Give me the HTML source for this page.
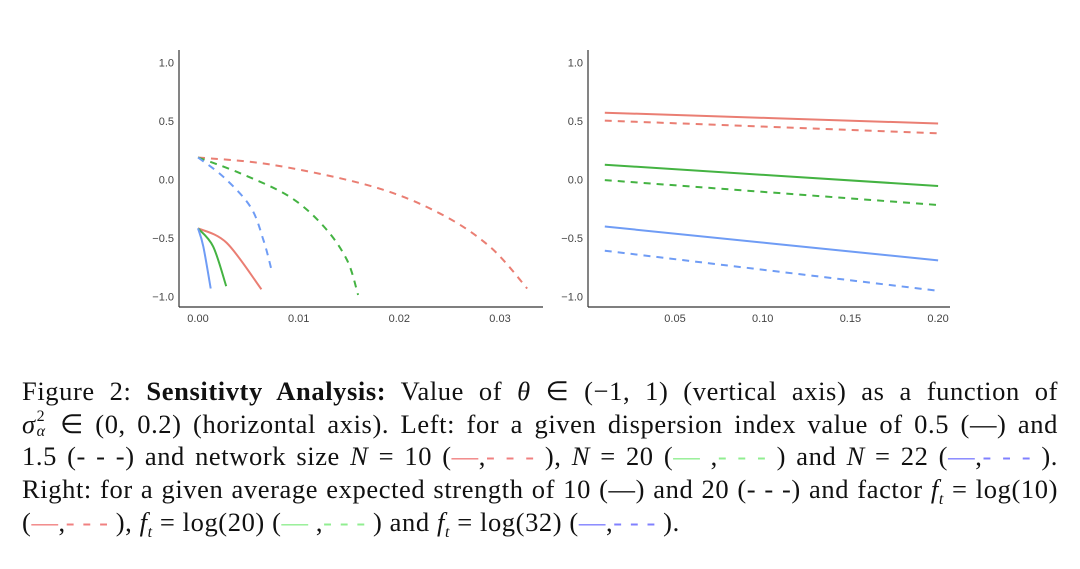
<!DOCTYPE html>
<html><head><meta charset="utf-8"><style>
body{margin:0;background:#fff;width:1080px;height:569px;overflow:hidden;position:relative;font-family:"Liberation Serif",serif}
.cap{position:absolute;left:22px;width:1036px;height:33px;font-size:26.5px;letter-spacing:0.6px;color:#111;text-align:justify;text-align-last:justify;white-space:nowrap;line-height:33px}
.cap.last{text-align-last:left}
i{font-style:italic}
.sb{font-size:16px;position:relative;top:6px;line-height:0}
.r{color:#f08080}.g{color:#90ee90}.b{color:#8080ff}
</style></head><body>
<svg id="chart" width="1080" height="360" style="position:absolute;left:0;top:0" font-family="Liberation Sans, sans-serif"></svg>
<div class="cap" style="top:375px">Figure 2: <b>Sensitivty Analysis:</b> Value of <i>θ</i> ∈ (−1, 1) (vertical axis) as a function of</div>
<div class="cap" style="top:408px"><i>σ</i><span style="display:inline-block;width:13px;position:relative;height:10px;vertical-align:baseline"><span style="position:absolute;left:1px;top:-14px;font-size:16px;line-height:15px">2</span><i style="position:absolute;left:1px;top:1px;font-size:16px;line-height:15px">α</i></span> ∈ (0, 0.2) (horizontal axis). Left: for a given dispersion index value of 0.5 (—) and</div>
<div class="cap" style="top:440px">1.5 (- - -) and network size <i>N</i> = 10 (<span class="r">—</span>,<span class="r">- - -</span> ), <i>N</i> = 20 (<span class="g">—</span> ,<span class="g">- - -</span> ) and <i>N</i> = 22 (<span class="b">—</span>,<span class="b">- - -</span> ).</div>
<div class="cap" style="top:473px">Right: for a given average expected strength of 10 (—) and 20 (- - -) and factor <i>f<span class="sb">t</span></i> = log(10)</div>
<div class="cap last" style="top:506px">(<span class="r">—</span>,<span class="r">- - -</span> ), <i>f<span class="sb">t</span></i> = log(20) (<span class="g">—</span> ,<span class="g">- - -</span> ) and <i>f<span class="sb">t</span></i> = log(32) (<span class="b">—</span>,<span class="b">- - -</span> ).</div>
<script>
// Left panel data
const leftXTicks=[0,0.01,0.02,0.03];
const leftXTickLabels=["0.00","0.01","0.02","0.03"];
const yTicks=[1,0.5,0,-0.5,-1];
const yTickLabels=["1.0","0.5","0.0","\u22120.5","\u22121.0"];
const redDashX=[0,0.0075,0.0174,0.024,0.029,0.0327];
const redDashY=[0.19,0.126,-0.06,-0.287,-0.573,-0.93];
const greenDashX=[0,0.0042,0.0091,0.0125,0.0148,0.0159];
const greenDashY=[0.19,0.055,-0.145,-0.40,-0.686,-0.985];
const blueDashX=[0,0.0025,0.0052,0.0065,0.0073];
const blueDashY=[0.19,0.026,-0.23,-0.515,-0.77];
const redSolidX=[0,0.00285,0.0063];
const redSolidY=[-0.415,-0.54,-0.937];
const greenSolidX=[0,0.0015,0.0028];
const greenSolidY=[-0.415,-0.57,-0.91];
const blueSolidX=[0,0.00053,0.00126];
const blueSolidY=[-0.415,-0.57,-0.93];
// Right panel data
const rightXTicks=[0.05,0.10,0.15,0.20];
const rightXTickLabels=["0.05","0.10","0.15","0.20"];
const rightX=[0.01,0.20];
const r10=[0.573,0.48], r20=[0.505,0.397];
const g10=[0.128,-0.054], g20=[-0.003,-0.216];
const b10=[-0.40,-0.69], b20=[-0.607,-0.95];

const RED="#ea7e73",GREEN="#44b342",BLUE="#6f9cf5";
const svg=document.getElementById('chart');
const NS="http://www.w3.org/2000/svg";
function yS(v){return 179.7-v*117;}
function lxS(v){return 198+v*10067;}
function rxS(v){return 675+(v-0.05)*1754;}
function mk(t,a){const e=document.createElementNS(NS,t);for(const k in a)e.setAttribute(k,a[k]);svg.appendChild(e);return e;}
function axes(prefix,ax,x1,xs,xt,xl){
  let e=mk('line',{x1:ax,y1:50,x2:ax,y2:307,stroke:'#333','stroke-width':1.2});
  
  
  e=mk('line',{x1:ax,y1:307,x2:x1,y2:307,stroke:'#333','stroke-width':1.2});
  
  
  yTicks.forEach((v,i)=>{const t=mk('text',{x:ax-5,y:yS(v)+4,'font-size':11,fill:'#444','text-anchor':'end'});t.textContent=yTickLabels[i];
    
    });
  xt.forEach((v,i)=>{const t=mk('text',{x:xs(v),y:322,'font-size':11,fill:'#444','text-anchor':'middle'});t.textContent=xl[i];
    
    });
}
function line(xs,X,Y,c,dash,name){
  const P=X.map((x,i)=>[xs(x),yS(Y[i])]);
  let d='M'+P[0][0].toFixed(1)+','+P[0][1].toFixed(1);
  for(let i=0;i<P.length-1;i++){
    const p0=P[i-1]||P[i],p1=P[i],p2=P[i+1],p3=P[i+2]||p2;
    const c1=[p1[0]+(p2[0]-p0[0])/6,p1[1]+(p2[1]-p0[1])/6];
    const c2=[p2[0]-(p3[0]-p1[0])/6,p2[1]-(p3[1]-p1[1])/6];
    d+=' C'+c1.map(v=>v.toFixed(1)).join(',')+' '+c2.map(v=>v.toFixed(1)).join(',')+' '+p2.map(v=>v.toFixed(1)).join(',');
  }
  const p=mk('path',{d:d,fill:'none',stroke:c,'stroke-width':2,'stroke-dasharray':dash?'7,6':'none'});
  
  
}
axes('left',179,543,lxS,leftXTicks,leftXTickLabels);
axes('right',588,950,rxS,rightXTicks,rightXTickLabels);
line(lxS,redDashX,redDashY,RED,true,'left-red-dashed');
line(lxS,greenDashX,greenDashY,GREEN,true,'left-green-dashed');
line(lxS,blueDashX,blueDashY,BLUE,true,'left-blue-dashed');
line(lxS,redSolidX,redSolidY,RED,false,'left-red-solid');
line(lxS,greenSolidX,greenSolidY,GREEN,false,'left-green-solid');
line(lxS,blueSolidX,blueSolidY,BLUE,false,'left-blue-solid');
line(rxS,rightX,r10,RED,false,'right-red-solid');
line(rxS,rightX,r20,RED,true,'right-red-dashed');
line(rxS,rightX,g10,GREEN,false,'right-green-solid');
line(rxS,rightX,g20,GREEN,true,'right-green-dashed');
line(rxS,rightX,b10,BLUE,false,'right-blue-solid');
line(rxS,rightX,b20,BLUE,true,'right-blue-dashed');
</script>
</body></html>
